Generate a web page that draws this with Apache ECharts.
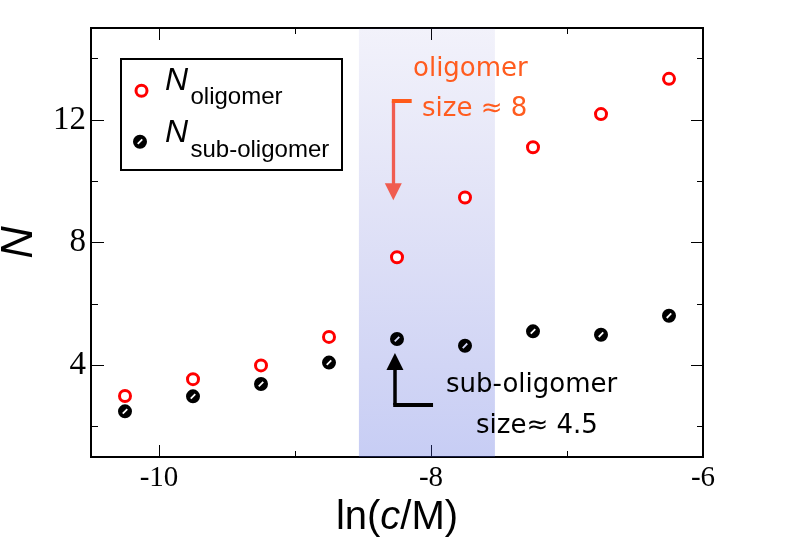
<!DOCTYPE html>
<html><head><meta charset="utf-8">
<script src="https://cdn.jsdelivr.net/npm/echarts@6/dist/echarts.min.js"></script>
<style>html,body{margin:0;padding:0;background:#fff}#c{width:800px;height:550px}</style>
</head><body><div id="c"></div>
<script>
// ---- data ----
const lnC = [-10.25, -9.75, -9.25, -8.75, -8.25, -7.75, -7.25, -6.75, -6.25];
const nOligomer = [2.99, 3.54, 3.99, 4.92, 7.52, 9.47, 11.11, 12.19, 13.34];
const nSubOligomer = [2.49, 2.98, 3.38, 4.08, 4.85, 4.63, 5.10, 4.99, 5.61];
const xMajorTicks = [-10, -8, -6];
const xMinorTicks = [-9, -7];
const yMajorTicks = [4, 8, 12];
const yMinorTicks = [2, 6, 10, 14];
const bandRange = [-8.53, -7.53];
const seriesNames = ['oligomer', 'sub-oligomer'];

const X_MIN = -10.5, X_MAX = -6, Y_MIN = 1, Y_MAX = 15;

const slashCircle = 'path://M7,0 A7,7 0 1,1 7,14 A7,7 0 1,1 7,0 Z M4.10,8.62 L5.38,9.90 L9.90,5.38 L8.62,4.10 Z';

function xAx(pos, ticks, len, labels, extra) {
  return Object.assign({
    type: 'value', min: X_MIN, max: X_MAX, position: pos,
    axisLine: { show: true, onZero: false, lineStyle: { color: '#000', width: 2 } },
    axisTick: { show: true, inside: true, length: len, customValues: ticks, lineStyle: { color: '#000', width: 1 } },
    axisLabel: labels ? { show: true, customValues: ticks, fontFamily: 'Liberation Serif', fontSize: 29, color: '#000', margin: 7 } : { show: false },
    splitLine: { show: false }
  }, extra || {});
}
function yAx(pos, ticks, len, labels, extra) {
  return Object.assign({
    type: 'value', min: Y_MIN, max: Y_MAX, position: pos,
    axisLine: { show: true, onZero: false, lineStyle: { color: '#000', width: 2 } },
    axisTick: { show: true, inside: true, length: len, customValues: ticks, lineStyle: { color: '#000', width: 1 } },
    axisLabel: labels ? { show: true, customValues: ticks, fontFamily: 'Liberation Serif', fontSize: 33, color: '#000', margin: 5 } : { show: false },
    splitLine: { show: false }
  }, extra || {});
}

const chart = echarts.init(document.getElementById('c'), null, { renderer: 'canvas' });
const pts = (ys) => lnC.map((x, i) => [x, ys[i]]);

const legendTextStyle = (size, italic) => ({ fontFamily: 'Liberation Sans', fontSize: size, fontStyle: italic ? 'italic' : 'normal', fill: '#000', verticalAlign: 'middle', align: 'left' });
const legendBase = { show: true, orient: 'vertical', padding: 0, formatter: () => '', textStyle: { fontSize: 10 } };

chart.setOption({
  animation: false,
  backgroundColor: '#fff',
  grid: { left: 91, right: 97, top: 28, bottom: 93, containLabel: false, outerBoundsMode: 'none' },
  xAxis: [
    xAx('bottom', xMajorTicks, 12, true, {
      name: '{a|ln(}{b|c}{a|/M)}', nameLocation: 'middle', nameGap: 22,
      nameTextStyle: { rich: {
        a: { fontFamily: 'Liberation Sans', fontSize: 40, color: '#000' },
        b: { fontFamily: 'Liberation Sans', fontSize: 40, fontStyle: 'italic', color: '#000' }
      } }
    }),
    xAx('bottom', xMinorTicks, 6, false),
    xAx('top', xMajorTicks, 12, false),
    xAx('top', xMinorTicks, 6, false)
  ],
  yAxis: [
    yAx('left', yMajorTicks, 13, true, {
      name: 'N', nameLocation: 'middle', nameRotate: 90, nameGap: 29,
      nameTextStyle: { fontFamily: 'Liberation Sans', fontStyle: 'italic', fontSize: 45, color: '#000' }
    }),
    yAx('left', yMinorTicks, 7, false),
    yAx('right', yMajorTicks, 12, false),
    yAx('right', yMinorTicks, 6, false)
  ],
  legend: [
    Object.assign({ left: 134.5, top: 83.8, itemWidth: 11, itemHeight: 11, data: [seriesNames[0]],
      itemStyle: { color: '#fff', borderColor: '#ff0000', borderWidth: 3 } }, legendBase),
    Object.assign({ left: 133, top: 134.7, itemWidth: 14, itemHeight: 14, data: [seriesNames[1]] }, legendBase)
  ],
  series: [
    {
      name: seriesNames[0], type: 'scatter', z: 2,
      data: pts(nOligomer),
      symbol: 'circle', symbolSize: 11,
      itemStyle: { color: '#fff', borderColor: '#ff0000', borderWidth: 3, opacity: 1 },
      markLine: {
        silent: true, animation: false, label: { show: false },
        lineStyle: { type: 'solid' },
        data: [
          [ { coord: [-8.277, 12.62], symbol: 'none', lineStyle: { color: '#f05c50', width: 3.3, type: 'solid' } },
            { coord: [-8.277, 9.66], symbol: 'triangle', symbolSize: [17, 17] } ],
          [ { coord: [-8.288, 12.62], symbol: 'none', lineStyle: { color: '#ff5a1a', width: 4, type: 'solid' } },
            { coord: [-8.142, 12.62], symbol: 'none' } ],
          [ { coord: [-8.265, 2.70], symbol: 'none', lineStyle: { color: '#000', width: 3.5, type: 'solid' } },
            { coord: [-8.265, 4.12], symbol: 'triangle', symbolSize: [17, 17] } ],
          [ { coord: [-8.278, 2.70], symbol: 'none', lineStyle: { color: '#000', width: 4, type: 'solid' } },
            { coord: [-7.985, 2.70], symbol: 'none' } ]
        ]
      }
    },
    {
      name: seriesNames[1], type: 'scatter', z: 2,
      data: pts(nSubOligomer),
      symbol: slashCircle, symbolSize: 14,
      itemStyle: { color: '#000', opacity: 1 }
    },
    {
      name: 'band', type: 'scatter', z: 5, data: [],
      markArea: {
        silent: true,
        itemStyle: { color: { type: 'linear', x: 0, y: 0, x2: 0, y2: 1, colorStops: [
          { offset: 0, color: 'rgba(90,90,200,0.08)' },
          { offset: 1, color: 'rgba(70,90,220,0.30)' }
        ] } },
        data: [[ { xAxis: bandRange[0] }, { xAxis: bandRange[1] } ]]
      }
    }
  ],
  graphic: [
    { type: 'rect', z: 100, shape: { x: 121, y: 59, width: 221, height: 111 }, style: { fill: 'none', stroke: '#000', lineWidth: 2 } },
    { type: 'text', z: 100, x: 165, y: 80.6, style: Object.assign({ text: 'N' }, legendTextStyle(32, true)) },
    { type: 'text', z: 100, x: 190.5, y: 97.7, style: Object.assign({ text: 'oligomer' }, legendTextStyle(24, false)) },
    { type: 'text', z: 100, x: 165, y: 133, style: Object.assign({ text: 'N' }, legendTextStyle(32, true)) },
    { type: 'text', z: 100, x: 190.5, y: 150.1, style: Object.assign({ text: 'sub-oligomer' }, legendTextStyle(24, false)) },
    { type: 'text', z: 100, left: 413, top: 56, style: { text: 'oligomer', fontFamily: 'DejaVu Sans', fontSize: 26, fill: '#ff5c1f' } },
    { type: 'text', z: 100, left: 422, top: 96, style: { text: 'size \u2248 8', fontFamily: 'DejaVu Sans', fontSize: 26, fill: '#ff5c1f' } },
    { type: 'text', z: 100, left: 446, top: 372, style: { text: 'sub-oligomer', fontFamily: 'DejaVu Sans', fontSize: 26, fill: '#000' } },
    { type: 'text', z: 100, left: 476, top: 413, style: { text: 'size\u2248 4.5', fontFamily: 'DejaVu Sans', fontSize: 26, fill: '#000' } }
  ]
});
</script>
</body></html>
